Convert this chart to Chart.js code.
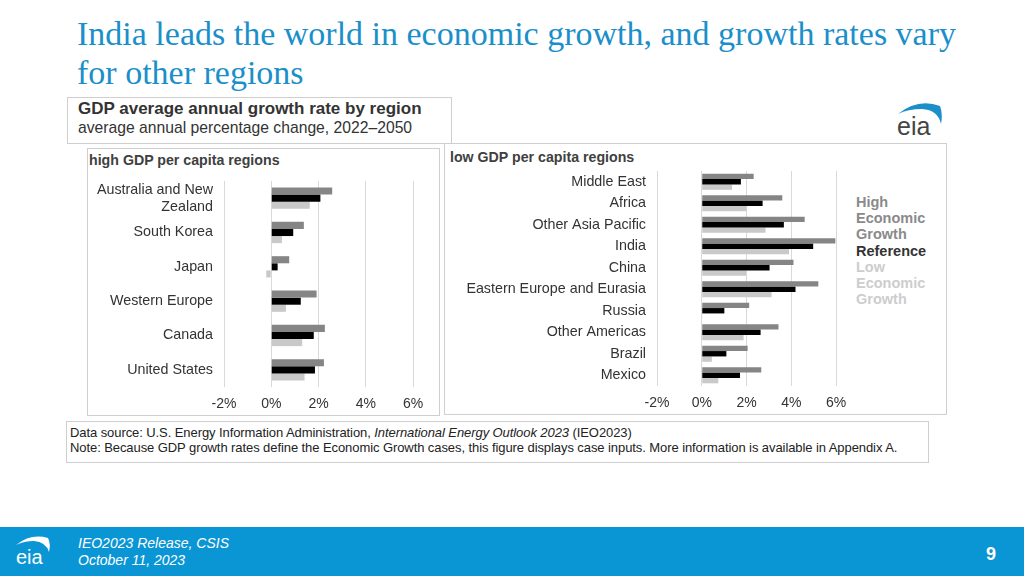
<!DOCTYPE html>
<html>
<head>
<meta charset="utf-8">
<script src="https://cdn.jsdelivr.net/npm/chart.js@4.4.0/dist/chart.umd.min.js"></script>
<style>
  body { margin: 0; width: 1024px; height: 576px; background: #fff; position: relative; overflow: hidden; font-family: "Liberation Sans", Arial, sans-serif; }
  .abs { position: absolute; }
  #title { left: 77px; top: 14px; width: 905px; font-family: "Liberation Serif", "Times New Roman", serif; font-size: 34px; line-height: 39px; color: #1a8fca; }
  .box { position: absolute; border: 1px solid #cfcfcf; box-sizing: border-box; }
  #legend div { font-weight: bold; font-size: 14.5px; line-height: 16.2px; }
  #footer { left: 0; top: 527px; width: 1024px; height: 49px; background: #0a95d5; }
  .src { left: 70px; font-size: 13px; color: #222; letter-spacing: -0.08px; }
</style>
</head>
<body>

<div id="title" class="abs">India leads the world in economic growth, and growth rates vary for other regions</div>

<div class="box" style="left:67px;top:97px;width:385px;height:47px;"></div>
<div class="abs" style="left:78px;top:99px;font-weight:bold;font-size:17px;color:#333;">GDP average annual growth rate by region</div>
<div class="abs" style="left:78px;top:119px;font-size:15.7px;color:#333;">average annual percentage change, 2022–2050</div>

<!-- eia logo -->
<svg class="abs" style="left:894px;top:100px;" width="52" height="40" viewBox="0 0 52 40">
  <path d="M4 14 Q24 -2 46 6 Q49 14 47 24 Q44 10 28 9 Q14 9 4 14 Z" fill="#1a8fca"/>
  <text x="3" y="35" font-family="Liberation Sans, Arial" font-size="25" fill="#444">eia</text>
</svg>

<div class="box" style="left:87px;top:148px;width:353px;height:268px;"></div>
<div class="box" style="left:444px;top:143px;width:503px;height:272px;"></div>
<div class="abs" style="left:89px;top:152px;font-weight:bold;font-size:14.2px;color:#404040;">high GDP per capita regions</div>
<div class="abs" style="left:450px;top:149px;font-weight:bold;font-size:14.2px;color:#404040;">low GDP per capita regions</div>

<div class="abs" style="left:88px;top:175px;width:345px;height:240px;"><canvas id="highChart"></canvas></div>
<div class="abs" style="left:446px;top:165px;width:410px;height:249px;"><canvas id="lowChart"></canvas></div>

<div id="legend" class="abs" style="left:856px;top:194px;"></div>

<div class="box" style="left:66px;top:421px;width:863px;height:42px;"></div>
<div class="abs src" style="top:425px;">Data source: U.S. Energy Information Administration, <i>International Energy Outlook 2023</i> (IEO2023)</div>
<div class="abs src" style="top:440px;">Note: Because GDP growth rates define the Economic Growth cases, this figure displays case inputs. More information is available in Appendix A.</div>

<div id="footer" class="abs"></div>
<svg class="abs" style="left:13px;top:533px;" width="40" height="36" viewBox="0 0 40 36">
  <path d="M3 12 Q18 0 35 5 Q38 11 36 19 Q33 9 21 8 Q11 8 3 12 Z" fill="#fff"/>
  <text x="3" y="31" font-family="Liberation Sans, Arial" font-size="20" fill="#fff">eia</text>
</svg>
<div class="abs" style="left:78px;top:535px;font-style:italic;font-size:14px;color:#fff;line-height:17px;">IEO2023 Release, CSIS<br>October 11, 2023</div>
<div class="abs" style="left:986px;top:544px;font-weight:bold;font-size:18px;color:#fff;">9</div>

<script>
// series names and colours
const seriesNames = ['High Economic Growth', 'Reference', 'Low Economic Growth'];
const seriesColors = ['#858585', '#000000', '#c9c9c9'];
const legendLines = [['High', 'Economic', 'Growth'], ['Reference'], ['Low', 'Economic', 'Growth']];

// high GDP per capita regions
const highRegions = [['Australia and New', 'Zealand'], 'South Korea', 'Japan', 'Western Europe', 'Canada', 'United States'];
const highHigh = [2.58, 1.38, 0.76, 1.92, 2.27, 2.23];
const highRef  = [2.08, 0.93, 0.27, 1.25, 1.80, 1.85];
const highLow  = [1.63, 0.45, -0.21, 0.62, 1.31, 1.41];

// low GDP per capita regions
const lowRegions = ['Middle East', 'Africa', 'Other Asia Pacific', 'India', 'China', 'Eastern Europe and Eurasia', 'Russia', 'Other Americas', 'Brazil', 'Mexico'];
const lowHigh = [2.32, 3.60, 4.60, 5.97, 4.10, 5.21, 2.12, 3.43, 2.05, 2.66];
const lowRef  = [1.75, 2.72, 3.67, 4.98, 3.03, 4.19, 1.01, 2.63, 1.10, 1.71];
const lowLow  = [1.35, 2.00, 2.85, 3.90, 1.98, 3.12, 0.03, 1.87, 0.45, 0.74];

// x axis ticks
const tickMin = -2;
const tickMax = 6;
const tickStep = 2;

function makeChart(id, labels, values, yWidth, catPct) {
  const ctx = document.getElementById(id).getContext('2d');
  return new Chart(ctx, {
    type: 'bar',
    data: {
      labels: labels,
      datasets: values.map((v, i) => ({
        label: seriesNames[i],
        data: v,
        backgroundColor: seriesColors[i],
        borderWidth: 0,
        barPercentage: 1,
        categoryPercentage: catPct
      }))
    },
    options: {
      indexAxis: 'y',
      responsive: true,
      maintainAspectRatio: false,
      animation: false,
      layout: { padding: { top: 6, right: 20, bottom: 0, left: 0 } },
      plugins: { legend: { display: false }, tooltip: { enabled: false } },
      scales: {
        x: {
          min: tickMin,
          max: tickMax,
          ticks: {
            stepSize: tickStep,
            padding: 9,
            color: '#333',
            font: { family: 'Liberation Sans', size: 14 },
            callback: v => v + '%'
          },
          grid: { color: '#d9d9d9', drawTicks: false },
          border: { display: false },
          afterFit: s => { s.height = 28; }
        },
        y: {
          ticks: {
            autoSkip: false,
            padding: 11,
            color: '#333',
            font: { family: 'Liberation Sans', size: 14.3 }
          },
          grid: { display: false, drawTicks: false },
          border: { display: false },
          afterFit: s => { s.width = yWidth; s.paddingTop = 0; s.paddingBottom = 0; }
        }
      }
    }
  });
}

makeChart('highChart', highRegions, [highHigh, highRef, highLow], 136, 0.62);
makeChart('lowChart', lowRegions, [lowHigh, lowRef, lowLow], 211, 0.75);

// legend text built from the series
const legend = document.getElementById('legend');
legendLines.forEach((lines, i) => {
  lines.forEach(t => {
    const d = document.createElement('div');
    d.textContent = t;
    d.style.color = i === 1 ? '#333' : (i === 0 ? '#8a8a8a' : '#cdcdcd');
    legend.appendChild(d);
  });
});
</script>
</body>
</html>
